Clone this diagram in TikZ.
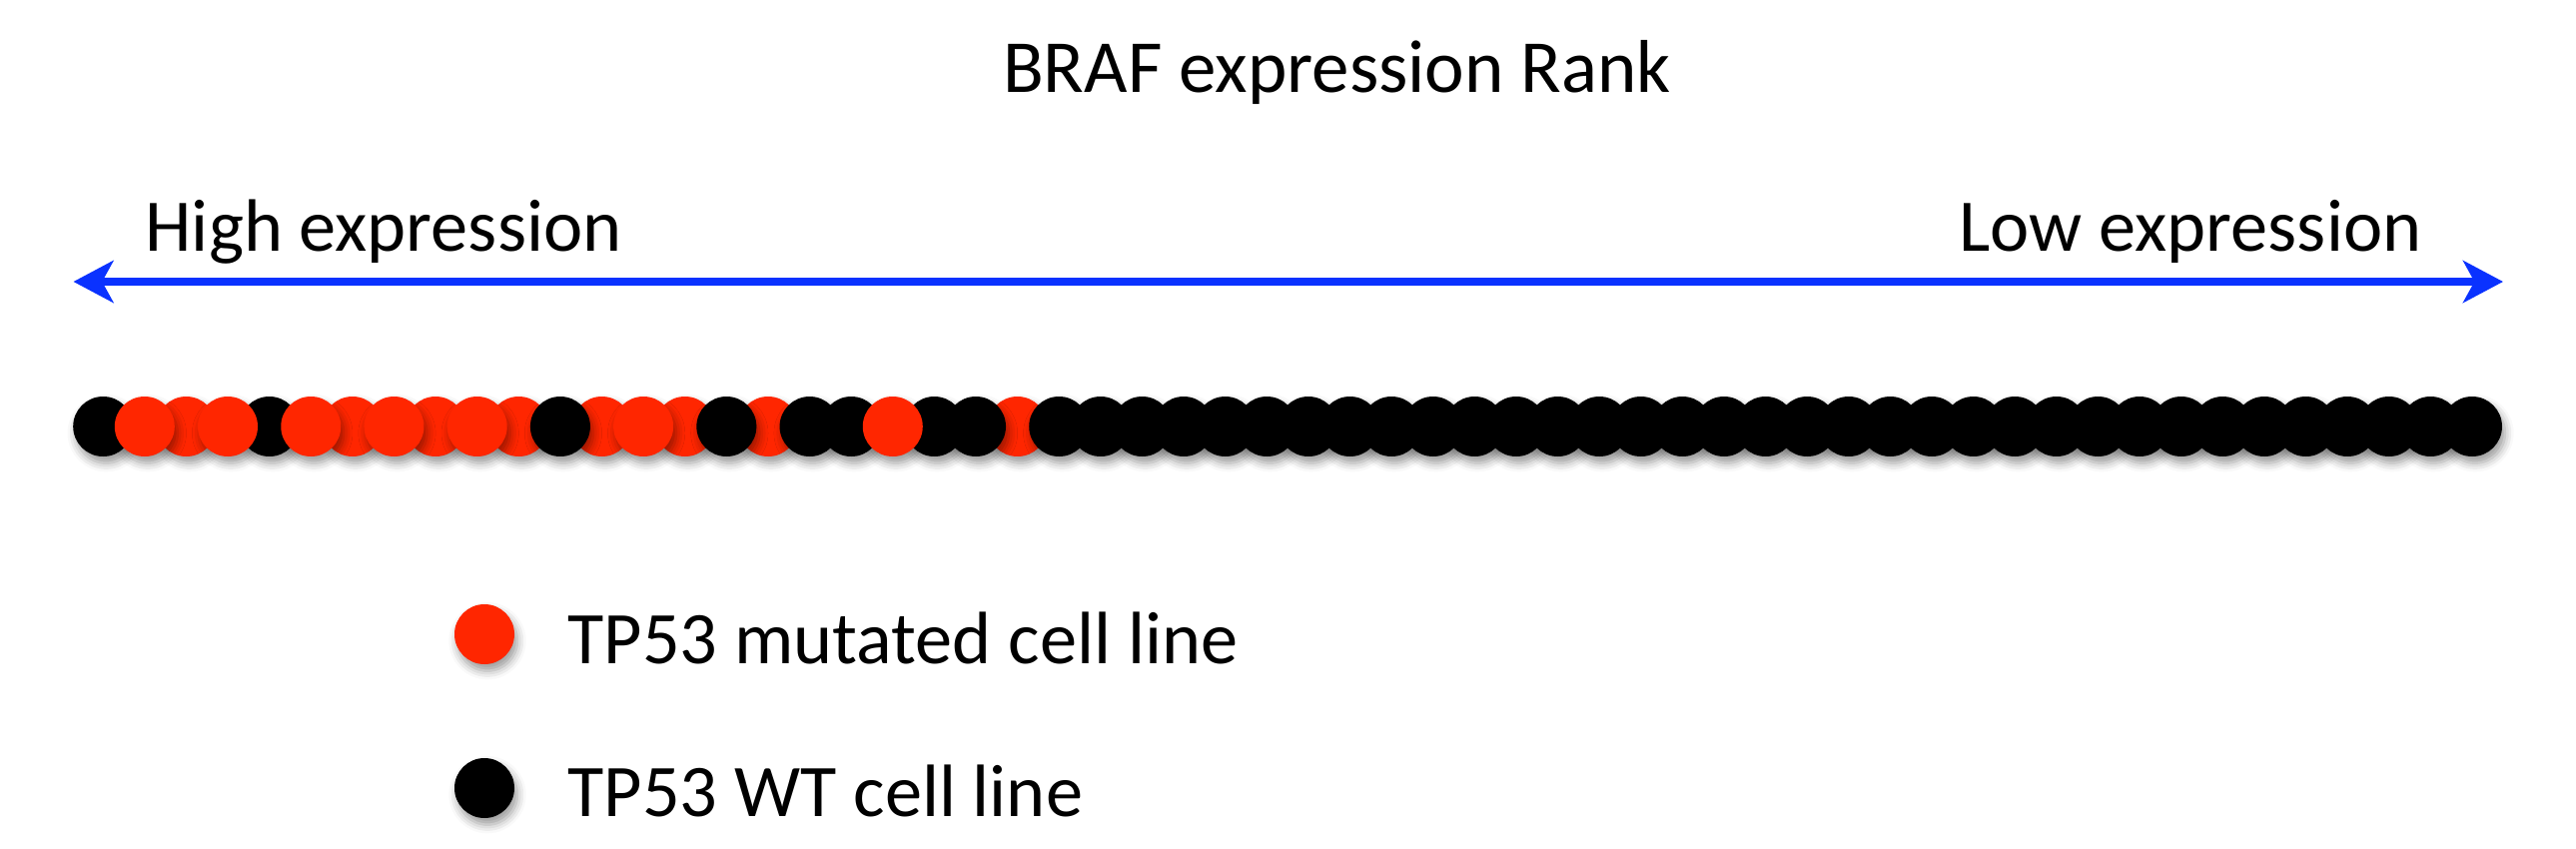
\documentclass[tikz,border=0pt]{standalone}
\usepackage{fontspec}
\setmainfont{Carlito}
\usetikzlibrary{arrows.meta,shadows.blur}
\definecolor{dotred}{RGB}{255,38,0}
\definecolor{arrowblue}{RGB}{10,50,255}
\begin{document}
\begin{tikzpicture}[x=0.3pt,y=-0.3pt,
  dot/.style={circle, minimum size=18pt, inner sep=0pt,
    blur shadow={shadow xshift=0.9pt, shadow yshift=-2pt, shadow blur radius=2.6pt, shadow opacity=40}},
  lbl/.style={font=\fontsize{22.3}{26}\selectfont, inner sep=0pt, anchor=base west},
  ttl/.style={font=\fontsize{22.5}{26}\selectfont, inner sep=0pt, anchor=base},
  rankarrow/.style={draw=arrowblue, line width=2.4pt,
    {Stealth[length=12pt,width=12.6pt,inset=3.4pt]}-{Stealth[length=12pt,width=12.6pt,inset=3.4pt]}}]
\useasboundingbox (0,0) rectangle (2579,850);
% title
\node[ttl] (title) at (1338.5,92) {BRAF expression Rank};
% axis labels
\node[lbl] (high) at (145,251) {High expression};
\node[lbl, anchor=base east] (low) at (2425,251) {Low expression};
% arrow
\coordinate (L) at (73.5,282);
\coordinate (R) at (2506,282);
\draw[rankarrow] (L) -- (R);
% circles: back layer (even indices)
\foreach \i/\c in {0/black,2/dotred,4/black,6/dotred,8/dotred,10/dotred,12/dotred,14/dotred,16/dotred,18/black,20/black,22/dotred}
  \node[dot, fill=\c] (c\i) at ({103.2+41.61*\i},427) {};
\foreach \i in {24,26,...,56}
  \node[dot, fill=black] (c\i) at ({103.2+41.61*\i},427) {};
% circles: front layer (odd indices)
\foreach \i/\c in {1/dotred,3/dotred,5/dotred,7/dotred,9/dotred,11/black,13/dotred,15/black,17/black,19/dotred,21/black,23/black}
  \node[dot, fill=\c] (c\i) at ({103.2+41.61*\i},427) {};
\foreach \i in {25,27,...,57}
  \node[dot, fill=black] (c\i) at ({103.2+41.61*\i},427) {};
% legend
\node[dot, fill=dotred] (lm) at (485,635) {};
\node[lbl] (tm) at (568,664) {TP53 mutated cell line};
\node[dot, fill=black] (lw) at (485,789) {};
\node[lbl] (tw) at (568,817) {TP53 WT cell line};
\end{tikzpicture}
\end{document}
